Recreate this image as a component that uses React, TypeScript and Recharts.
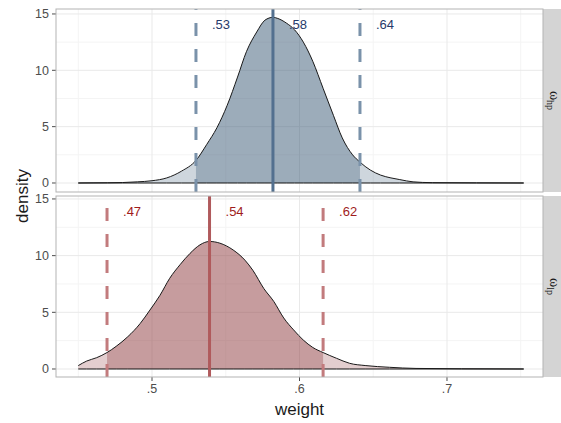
import {
  Area,
  CartesianGrid,
  ComposedChart,
  Line,
  ReferenceLine,
  XAxis,
  YAxis,
} from "recharts";

// posterior density of weight, omega_hp facet
const hpWeight = [
  0.45, 0.46, 0.47, 0.48, 0.49, 0.5, 0.51, 0.52, 0.5298, 0.537, 0.544, 0.551,
  0.558, 0.564, 0.571, 0.5766, 0.582, 0.5853, 0.591, 0.5966, 0.6026, 0.609,
  0.616, 0.623, 0.629, 0.636, 0.641, 0.648, 0.655, 0.662, 0.668, 0.677, 0.69,
  0.72, 0.752,
];
const hpDensity = [
  0, 0.01, 0.02, 0.04, 0.1, 0.2, 0.45, 1.05, 2.0, 3.4, 4.9, 6.9, 9.4, 11.65,
  13.4, 14.45, 14.7, 14.6, 14.2, 13.6, 12.5, 10.8, 8.4, 6.0, 4.0, 2.5, 1.85,
  1.15, 0.7, 0.45, 0.3, 0.1, 0.03, 0.01, 0,
];
const hpInterval = [0.5298, 0.582, 0.641];

// omega_lp facet
const lpWeight = [
  0.45, 0.4557, 0.4625, 0.4695, 0.4757, 0.4836, 0.4919, 0.4986, 0.5054, 0.512,
  0.519, 0.5258, 0.5325, 0.539, 0.546, 0.555, 0.563, 0.5684, 0.5758, 0.5826,
  0.5893, 0.596, 0.6026, 0.609, 0.616, 0.625, 0.634, 0.645, 0.661, 0.679,
  0.71, 0.752,
];
const lpDensity = [
  0.3, 0.7, 1.0, 1.45, 2.0, 2.85, 4.0, 5.2, 6.5, 8.0, 9.2, 10.2, 10.95, 11.25,
  11.1, 10.5, 9.6, 8.7, 7.1, 5.95, 4.5, 3.45, 2.55, 1.9, 1.45, 0.95, 0.5, 0.3,
  0.15, 0.05, 0.02, 0,
];
const lpInterval = [0.4695, 0.539, 0.616];

const xTicks = [0.5, 0.6, 0.7];
const xMinor = [0.45, 0.55, 0.65, 0.75];
const yTicks = [0, 5, 10, 15];
const yMinor = [2.5, 7.5, 12.5];

const X_DOMAIN: [number, number] = [0.4349, 0.7651];
const TICK_STYLE = { fontSize: 12.5, fill: "#4d4d4d", fontFamily: "Liberation Sans" };

type Palette = { fill: string; dash: string; solid: string; text: string };

const hpPalette: Palette = {
  fill: "#3d5b79",
  dash: "#7a92aa",
  solid: "#53708f",
  text: "#263a6a",
};
const lpPalette: Palette = {
  fill: "#913d41",
  dash: "#c27b7d",
  solid: "#b05a5c",
  text: "#a01c1c",
};

// drop the leading zero, as in ".53"
const fmt = (v: number) => v.toFixed(2).replace(/^0/, "");
const fmtTick = (v: number) => String(v).replace(/^0/, "");

function LineLabel({ viewBox, text, color }: any) {
  if (!viewBox) return null;
  return (
    <text
      x={viewBox.x + 16}
      y={viewBox.y + 20}
      fill={color}
      fontSize={13}
      fontFamily="Liberation Sans"
    >
      {text}
    </text>
  );
}

type PanelProps = {
  weight: number[];
  density: number[];
  interval: number[];
  palette: Palette;
  showX: boolean;
  height: number;
  margin: { top: number; right: number; bottom: number; left: number };
  yDomain: [number, number];
};

function DensityPanel({
  weight,
  density,
  interval,
  palette,
  showX,
  height,
  margin,
  yDomain,
}: PanelProps) {
  const [lo, mid, hi] = interval;
  const rows = weight.map((w, i) => ({
    weight: w,
    density: density[i],
    inner: w >= lo && w <= hi ? density[i] : null,
    base: 0,
  }));

  return (
    <ComposedChart width={561} height={height} data={rows} margin={margin}>
      <CartesianGrid
        stroke="#f4f4f4"
        horizontalValues={yMinor}
        verticalValues={xMinor}
      />
      <CartesianGrid
        stroke="#e9e9e9"
        horizontalValues={yTicks}
        verticalValues={xTicks}
      />
      <XAxis
        type="number"
        dataKey="weight"
        domain={X_DOMAIN}
        ticks={xTicks}
        allowDataOverflow
        hide={!showX}
        height={46}
        tick={TICK_STYLE}
        tickLine={{ stroke: "#4d4d4d" }}
        axisLine={false}
        tickSize={4}
        tickMargin={3}
        tickFormatter={fmtTick}
        label={{
          value: "weight",
          position: "insideBottom",
          offset: 8,
          fontSize: 17,
          fill: "#1a1a1a",
          fontFamily: "Liberation Sans",
        }}
      />
      <YAxis
        type="number"
        domain={yDomain}
        ticks={yTicks}
        allowDataOverflow
        width={56}
        tick={TICK_STYLE}
        tickLine={{ stroke: "#4d4d4d" }}
        axisLine={false}
        tickSize={4}
        tickMargin={3}
      />
      <Area
        dataKey="density"
        type="monotone"
        baseValue={0}
        fill={palette.fill}
        fillOpacity={0.25}
        stroke="none"
        isAnimationActive={false}
      />
      <Area
        dataKey="inner"
        type="monotone"
        baseValue={0}
        fill={palette.fill}
        fillOpacity={0.34}
        stroke="none"
        isAnimationActive={false}
      />
      <Line
        dataKey="density"
        type="monotone"
        stroke="#1a1a1a"
        strokeWidth={1}
        dot={false}
        isAnimationActive={false}
      />
      <Line
        dataKey="base"
        type="linear"
        stroke="#1a1a1a"
        strokeWidth={1}
        dot={false}
        isAnimationActive={false}
      />
      <ReferenceLine
        x={lo}
        stroke={palette.dash}
        strokeWidth={3}
        strokeDasharray="13 13"
        label={<LineLabel text={fmt(lo)} color={palette.text} />}
      />
      <ReferenceLine
        x={mid}
        stroke={palette.solid}
        strokeWidth={3}
        label={<LineLabel text={fmt(mid)} color={palette.text} />}
      />
      <ReferenceLine
        x={hi}
        stroke={palette.dash}
        strokeWidth={3}
        strokeDasharray="13 13"
        label={<LineLabel text={fmt(hi)} color={palette.text} />}
      />
    </ComposedChart>
  );
}

export default function App() {
  return (
    <div
      style={{
        position: "absolute",
        left: 0,
        top: 0,
        width: 561,
        height: 423,
        background: "#fff",
        overflow: "hidden",
        fontFamily: "Liberation Sans",
      }}
    >
      <div style={{ position: "absolute", left: 0, top: 0 }}>
        <DensityPanel
          weight={hpWeight}
          density={hpDensity}
          interval={hpInterval}
          palette={hpPalette}
          showX={false}
          height={200}
          margin={{ top: 9, right: 18, bottom: 8, left: 0 }}
          yDomain={[-0.8, 15.44]}
        />
      </div>
      <div style={{ position: "absolute", left: 0, top: 190 }}>
        <DensityPanel
          weight={lpWeight}
          density={lpDensity}
          interval={lpInterval}
          palette={lpPalette}
          showX={true}
          height={233}
          margin={{ top: 6, right: 18, bottom: 0, left: 0 }}
          yDomain={[-0.706, 15.26]}
        />
      </div>
      {/* panel borders + facet strips */}
      <svg
        width={561}
        height={423}
        style={{ position: "absolute", left: 0, top: 0, pointerEvents: "none" }}
      >
        <rect x={543} y={9} width={20} height={183} fill="#d4d4d4" />
        <rect x={543} y={196} width={20} height={181} fill="#d4d4d4" />
        <rect x={56} y={9} width={487} height={183} fill="none" stroke="#b3b3b3" />
        <rect x={56} y={196} width={487} height={181} fill="none" stroke="#b3b3b3" />
        <text
          transform="translate(550,100.5) rotate(90)"
          textAnchor="middle"
          fontFamily="Liberation Serif"
          fontSize={14}
          fill="#1a1a1a"
        >
          ω<tspan fontSize={10} dy={3}>hp</tspan>
        </text>
        <text
          transform="translate(550,286.5) rotate(90)"
          textAnchor="middle"
          fontFamily="Liberation Serif"
          fontSize={14}
          fill="#1a1a1a"
        >
          ω<tspan fontSize={10} dy={3}>lp</tspan>
        </text>
        <text
          transform="translate(28,196) rotate(-90)"
          textAnchor="middle"
          fontFamily="Liberation Sans"
          fontSize={17}
          fill="#1a1a1a"
        >
          density
        </text>
      </svg>
    </div>
  );
}
